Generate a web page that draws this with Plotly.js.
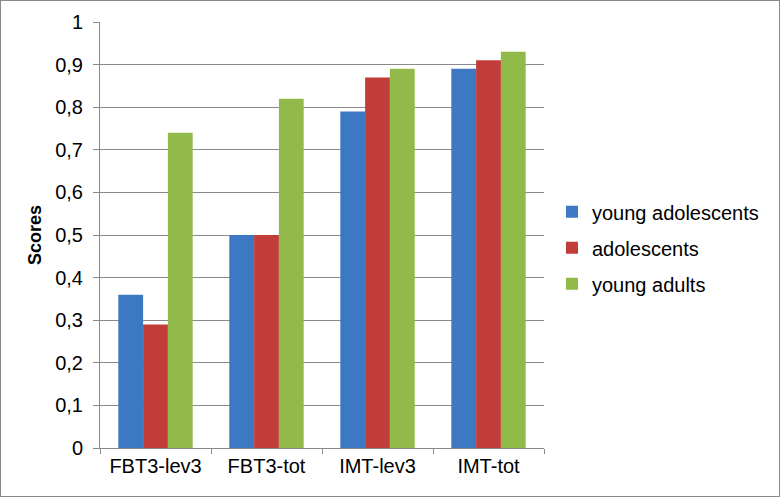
<!DOCTYPE html>
<html>
<head>
<meta charset="utf-8">
<script src="https://cdn.plot.ly/plotly-3.0.1.min.js"></script>
<style>
html,body{margin:0;padding:0;background:#fff;}
#chart{width:778px;height:495px;border:1px solid #8a8a8a;}
</style>
</head>
<body>
<div id="chart"></div>
<script>
const categories = ["FBT3-lev3", "FBT3-tot", "IMT-lev3", "IMT-tot"];
const youngAdolescents = [0.36, 0.50, 0.79, 0.89];
const adolescents = [0.29, 0.50, 0.87, 0.91];
const youngAdults = [0.74, 0.82, 0.89, 0.93];
const seriesNames = ["young adolescents", "adolescents", "young adults"];
const seriesColors = ["#3d78c2", "#c13d39", "#92ba4a"];
const seriesValues = [youngAdolescents, adolescents, youngAdults];

const font = "Liberation Sans, Arial, sans-serif";
const traces = seriesValues.map((vals, i) => ({
  type: "bar",
  x: categories,
  y: vals,
  name: seriesNames[i],
  legendgroup: "g" + i,
  marker: {color: seriesColors[i], line: {width: 0}},
  hoverinfo: "x+y+name"
}));

const layout = {
  width: 778, height: 495,
  margin: {l: 99, r: 235, t: 21, b: 48},
  paper_bgcolor: "#ffffff", plot_bgcolor: "#ffffff",
  separators: ",.",
  font: {family: font, size: 20, color: "#000"},
  barmode: "group",
  bargap: 0.33,
  bargroupgap: 0,
  showlegend: true,
  legend: {
    x: 1.018, xanchor: "left", y: 0.47, yanchor: "middle",
    font: {family: font, size: 20, color: "#000"},
    traceorder: "grouped", tracegroupgap: 7,
    bgcolor: "rgba(0,0,0,0)"
  },
  xaxis: {
    type: "category",
    showline: true, linecolor: "#8a8a8a", linewidth: 1,
    ticks: "outside", tickson: "boundaries", ticklen: 5, tickcolor: "#8a8a8a",
    showgrid: false, zeroline: false,
    tickfont: {family: font, size: 20, color: "#000"}
  },
  yaxis: {
    range: [0, 1], dtick: 0.1, tick0: 0,
    showline: true, linecolor: "#8a8a8a", linewidth: 1,
    ticks: "outside", ticklen: 6, tickcolor: "#8a8a8a",
    showgrid: true, gridcolor: "#8a8a8a", gridwidth: 1,
    zeroline: false,
    ticklabelstandoff: 6,
    tickfont: {family: font, size: 20, color: "#000"},
    title: {text: "<b>Scores</b>", font: {family: font, size: 18, color: "#000"}, standoff: 8}
  }
};

Plotly.newPlot("chart", traces, layout, {displayModeBar: false, staticPlot: true});
</script>
</body>
</html>
